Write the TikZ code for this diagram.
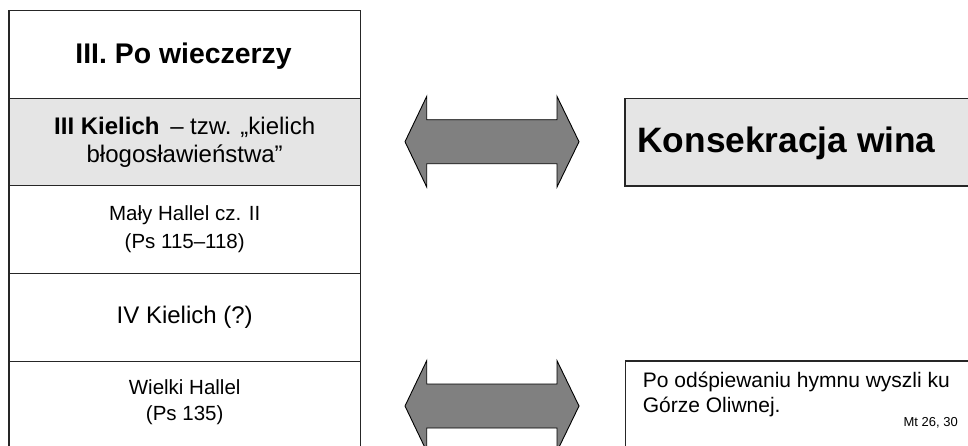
\documentclass[tikz,border=0pt]{standalone}
\usepackage{fontspec}
\setmainfont{Liberation Sans}
\begin{document}
\begin{tikzpicture}[x=1pt,y=-1pt,
  frame/.style={draw=black!85, line width=1.1pt},
  cellfill/.style={fill=black!10},
  bigarrow/.style={fill=black!50, draw=black, line width=0.9pt, line join=miter},
  lbl/.style={inner sep=0pt, align=center},
]
\useasboundingbox (0,0) rectangle (968,445);
\clip (0,0) rectangle (968,445);
\fill[white] (0,0) rectangle (968,445);
% table
\fill[cellfill] (9,98.3) rectangle (360.5,185.7);
\draw[frame] (9,470) -- (9,10.7) -- (360.5,10.7) -- (360.5,470);
\foreach \y in {98.3,185.7,273.3,361.7} \draw[frame] (9,\y) -- (360.5,\y);
\node[lbl, font=\fontsize{28.4}{34}\selectfont\bfseries] (title) at (183.5,56.5) {III. Po wieczerzy};
\node[lbl, font=\fontsize{24}{28.3}\selectfont] (kielich3) at (184.7,142) {\textbf{III Kielich}\, – tzw. „kielich\\ błogosławieństwa”};
\node[lbl, font=\fontsize{20.5}{27.7}\selectfont] (maly) at (184.7,229.5) {Mały Hallel cz. II\\(Ps 115–118)};
\node[lbl, font=\fontsize{24}{28}\selectfont] (kielich4) at (184.7,317.5) {IV Kielich (?)};
\node[lbl, font=\fontsize{20.5}{25.5}\selectfont] (wielki) at (184.7,402) {Wielki Hallel\\(Ps 135)};
% right boxes
\fill[cellfill] (625,98.3) rectangle (980,186);
\draw[frame] (980,98.3) -- (625,98.3) -- (625,186) -- (980,186);
\node[lbl, font=\fontsize{35.3}{40}\selectfont\bfseries] (kons) at (786.5,143) {Konsekracja wina};
\draw[frame] (980,361) -- (625.7,361) -- (625.7,470);
\node[lbl, align=left, anchor=north west, font=\fontsize{21}{24.4}\selectfont] (hymn) at (642.7,372) {Po odśpiewaniu hymnu wyszli ku\\Górze Oliwnej.};
\node[inner sep=0pt, anchor=base east, font=\fontsize{13}{15}\selectfont] (mt) at (958,426.7) {Mt 26, 30};
% arrows
\draw[bigarrow] (405,141.7) -- (426.7,96.4) -- (426.7,119.7) -- (557,119.7) -- (557,96.4) -- (579,141.7) -- (557,187) -- (557,163.7) -- (426.7,163.7) -- (426.7,187) -- cycle;
\begin{scope}[shift={(0,264.3)}]
\draw[bigarrow] (405,141.7) -- (426.7,96.4) -- (426.7,119.7) -- (557,119.7) -- (557,96.4) -- (579,141.7) -- (557,187) -- (557,163.7) -- (426.7,163.7) -- (426.7,187) -- cycle;
\end{scope}
\end{tikzpicture}
\end{document}
